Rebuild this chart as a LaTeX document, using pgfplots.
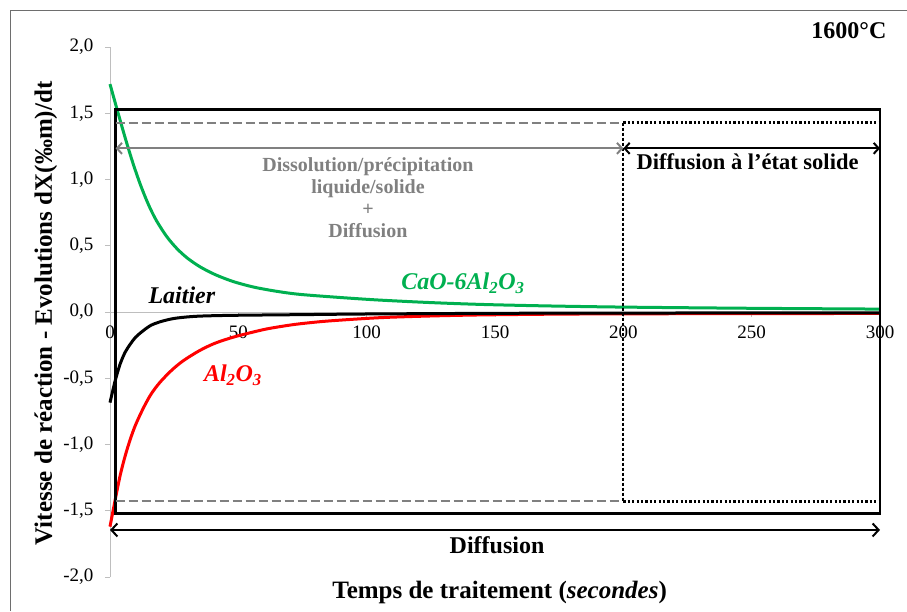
\documentclass[border=0pt]{standalone}
\usepackage{fontspec}
\setmainfont{Liberation Serif}
\usepackage{pgfplots}
\pgfplotsset{compat=1.18}
\usetikzlibrary{arrows.meta}
\definecolor{cgreen}{RGB}{0,176,80}
\definecolor{cred}{RGB}{255,0,0}
\definecolor{cgray}{RGB}{128,128,128}
\definecolor{axgray}{RGB}{190,190,190}
\begin{document}
\begin{tikzpicture}[x=1pt,y=1pt]
\path[use as bounding box] (0,0) rectangle (907,611);
\draw[color={rgb,255:red,110;green,110;blue,110}, line width=1.2pt] (10.5,0) -- (10.5,600.5) -- (907,600.5);
\begin{axis}[
  at={(110pt,34pt)}, anchor=south west,
  scale only axis, width=770pt, height=530pt,
  xmin=0, xmax=300, ymin=-2, ymax=2,
  axis y line=left, axis x line=middle,
  axis line style={-, draw=axgray, line width=0.9pt},
  hide obscured x ticks=false, hide obscured y ticks=false,
  xtick={0,50,...,300}, ytick={-2,-1.5,...,2},
  tick align=outside, major tick length=5pt,
  tick style={draw=axgray, line width=0.9pt},
  every tick label/.append style={font=\fontsize{19}{22}\selectfont, text=black},
  /pgf/number format/assume math mode=true,
  yticklabel style={xshift=-8pt, /pgf/number format/.cd, fixed, fixed zerofill, precision=1, use comma},
  xticklabel style={yshift=-5pt, /pgf/number format/.cd, fixed, precision=0},
  clip=false,
]
% curves
\addplot[cgreen, line width=3pt, smooth] coordinates {
(0,1.72) (3,1.512) (6,1.309) (9,1.12) (12,0.953) (15,0.81) (18,0.693) (22,0.572) (26,0.48) (30,0.409) (35,0.342) (41,0.282) (48,0.23) (56,0.188) (65,0.156) (74,0.133) (90,0.109) (105,0.09) (125,0.071) (145,0.057) (170,0.046) (200,0.037) (250,0.028) (300,0.022)};
\addplot[cred, line width=3pt, smooth] coordinates {
(0,-1.62) (2,-1.42) (4,-1.23) (6,-1.08) (8,-0.955) (10,-0.85) (13,-0.725) (16,-0.62) (19.5,-0.53) (24,-0.44) (28.6,-0.367) (35,-0.29) (41,-0.235) (48,-0.19) (55,-0.155) (61,-0.128) (68,-0.105) (74,-0.089) (85,-0.068) (105,-0.043) (125,-0.03) (145,-0.022) (175,-0.016) (200,-0.014) (250,-0.012) (300,-0.011)};
\addplot[black, line width=3pt, smooth] coordinates {
(0,-0.684) (2,-0.52) (4,-0.39) (6,-0.30) (8,-0.24) (10,-0.19) (13,-0.14) (16,-0.10) (19.5,-0.074) (24,-0.052) (28.6,-0.04) (35,-0.031) (48,-0.025) (74,-0.02) (100,-0.015) (150,-0.01) (200,-0.008) (300,-0.006)};
% annotation frame
\draw[black, line width=2.5pt] (axis cs:2.2,-1.52) rectangle (axis cs:300,1.53);
\draw[cgray, line width=2pt, dash pattern=on 9pt off 4pt] (axis cs:2.2,1.43) -- (axis cs:200,1.43);
\draw[cgray, line width=2pt, dash pattern=on 9pt off 4pt] (axis cs:2.2,-1.43) -- (axis cs:200,-1.43);
\draw[black, line width=2.2pt, dash pattern=on 2.2pt off 2.2pt] (axis cs:200,1.43) -- (axis cs:300,1.43);
\draw[black, line width=2.2pt, dash pattern=on 2.2pt off 2.2pt] (axis cs:200,-1.43) -- (axis cs:300,-1.43);
\draw[black, line width=2.2pt, dash pattern=on 3pt off 2pt] (axis cs:200,1.43) -- (axis cs:200,-1.43);
\draw[cgray, line width=2pt, {Straight Barb[length=5pt,width=11pt]}-{Straight Barb[length=5pt,width=11pt]}] (axis cs:2.2,1.235) -- (axis cs:200,1.235);
\draw[black, line width=2pt, {Straight Barb[length=5pt,width=11pt]}-{Straight Barb[length=5pt,width=11pt]}] (axis cs:200,1.235) -- (axis cs:300,1.235);
\draw[black, line width=2pt, {Straight Barb[length=6pt,width=13pt]}-{Straight Barb[length=6pt,width=13pt]}] (axis cs:0,-1.645) -- (axis cs:300,-1.645);
% texts
\node[anchor=base, text=cgray, font=\fontsize{20}{22}\selectfont\bfseries] at (axis cs:100.5,1.059) {Dissolution/précipitation};
\node[anchor=base, text=cgray, font=\fontsize{20}{22}\selectfont\bfseries] at (axis cs:100.5,0.893) {liquide/solide};
\node[anchor=base, text=cgray, font=\fontsize{20}{22}\selectfont\bfseries] at (axis cs:100.5,0.727) {+};
\node[anchor=base, text=cgray, font=\fontsize{20}{22}\selectfont\bfseries] at (axis cs:100.5,0.561) {Diffusion};
\node[anchor=base, font=\fontsize{22.5}{26}\selectfont\bfseries] at (axis cs:248.4,1.077) {Diffusion à l’état solide};
\node[anchor=base, font=\fontsize{24}{28}\selectfont\bfseries] at (axis cs:150.8,-1.826) {Diffusion};
\node[anchor=base, font=\fontsize{25}{28}\selectfont\bfseries] at (axis cs:151.8,-2.161) {Temps de traitement (\textit{secondes})};
\node[anchor=base, font=\fontsize{24}{28}\selectfont\bfseries] at (axis cs:287.9,2.066) {1600°C};
\node[anchor=base, rotate=90, font=\fontsize{25}{28}\selectfont\bfseries] at (axis cs:-22.6,-0.01) {Vitesse de réaction - Evolutions dX(‰m)/dt};
\node[anchor=base, text=cgreen, font=\fontsize{24}{28}\selectfont\bfseries\itshape] at (axis cs:137.5,0.171) {CaO-6Al\textsubscript{2}O\textsubscript{3}};
\node[anchor=base, font=\fontsize{24}{28}\selectfont\bfseries\itshape] at (axis cs:28.0,0.066) {Laitier};
\node[anchor=base, text=cred, font=\fontsize{24}{28}\selectfont\bfseries\itshape] at (axis cs:47.9,-0.526) {Al\textsubscript{2}O\textsubscript{3}};
\end{axis}
\end{tikzpicture}
\end{document}
